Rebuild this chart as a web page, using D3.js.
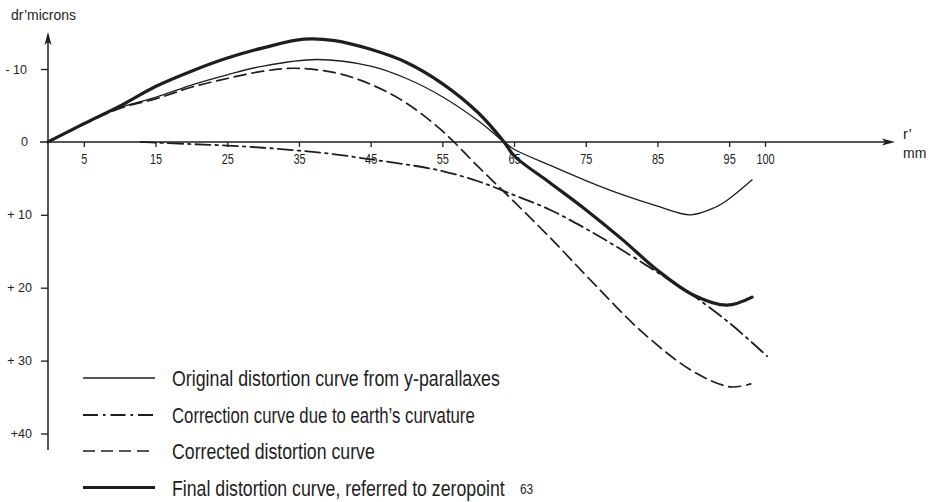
<!DOCTYPE html>
<html>
<head>
<meta charset="utf-8">
<script src="https://cdn.jsdelivr.net/npm/d3@7"></script>
<style>
  html, body { margin: 0; padding: 0; background: #ffffff; }
  svg { display: block; }
  text { font-family: "Liberation Sans", Arial, "DejaVu Sans", sans-serif; fill: #1e1e1e; }
</style>
</head>
<body>
<svg id="chart" width="934" height="502"></svg>
<script>
// ---- data (r' in mm, dr' in microns; negative = upward, labelled "- 10") ----
const rOriginal = [0, 5, 10, 15, 20, 25, 30, 37.5, 45, 50, 55, 60, 63.6, 65, 70, 75, 80, 85, 89.6, 93, 95, 98.2];
const dOriginal = [0, -2.4, -4.7, -6.1, -7.8, -9.2, -10.4, -11.3, -10.4, -8.7, -6.2, -2.9, 0, 1.0, 3.2, 5.3, 7.2, 8.8, 10.0, 9.0, 7.8, 5.2];

const rCorrection = [12.9, 15, 20, 25, 30, 35, 40, 45, 50, 55, 60, 65, 70, 75, 80, 85, 90, 95, 100.3];
const dCorrection = [0, 0.1, 0.3, 0.5, 0.8, 1.2, 1.7, 2.4, 3.1, 4.0, 5.4, 7.3, 9.3, 11.9, 14.8, 17.9, 21.1, 24.8, 29.4];

const rCorrected = [0, 5, 10, 15, 20, 25, 30, 34.3, 40, 45, 50, 55, 60, 65, 70, 76, 83, 90, 95.2, 98];
const dCorrected = [0, -2.4, -4.6, -5.9, -7.5, -8.7, -9.7, -10.1, -9.5, -7.9, -5.3, -1.5, 3.4, 8.2, 13.1, 19.3, 26.2, 31.5, 33.6, 33.2];

const rFinal = [0, 5, 10, 15, 20, 25, 30, 35.7, 40, 45, 50, 55, 60, 63.6, 65, 70, 75, 80, 85, 90, 94.7, 98.2];
const dFinal = [0, -2.5, -4.9, -7.6, -9.7, -11.5, -12.9, -14.1, -13.9, -12.7, -10.9, -8.0, -4.0, 0, 1.9, 5.6, 9.3, 13.3, 17.6, 21.0, 22.4, 21.3];

const xTickValues = [5, 15, 25, 35, 45, 55, 65, 75, 85, 95, 100];
const yTickValues = [-10, 0, 10, 20, 30, 40];
const yTickLabels = ["- 10", "0", "+ 10", "+ 20", "+ 30", "+40"];

const legendLabels = [
  "Original distortion curve from y-parallaxes",
  "Correction curve due to earth\u2019s curvature",
  "Corrected distortion curve",
  "Final distortion curve, referred to zeropoint"
];
const zeroPointLabel = "63";
const yTitle = "dr\u2019microns";
const xTitle1 = "r\u2019";
const xTitle2 = "mm";

// ---- layout ----
const svg = d3.select("#chart");
const ink = "#1e1e1e";

const x = d3.scaleLinear().domain([0, 100]).range([48, 765]);
const y = d3.scaleLinear().domain([-10, 40]).range([69, 433.5]);

const xAxisEnd = 895;
const yAxisTop = 32;
const yAxisBottom = 450;

// axes lines
svg.append("line")
  .attr("x1", 40).attr("x2", xAxisEnd - 3)
  .attr("y1", y(0)).attr("y2", y(0))
  .attr("stroke", ink).attr("stroke-width", 1.5);
svg.append("line")
  .attr("x1", x(0)).attr("x2", x(0))
  .attr("y1", yAxisBottom).attr("y2", yAxisTop + 3)
  .attr("stroke", ink).attr("stroke-width", 1.5);

// arrow heads
svg.append("path")
  .attr("d", `M${xAxisEnd},${y(0)} L${xAxisEnd - 13},${y(0) - 3.5} L${xAxisEnd - 10},${y(0)} L${xAxisEnd - 13},${y(0) + 3.5} Z`)
  .attr("fill", ink);
svg.append("path")
  .attr("d", `M${x(0)},${yAxisTop} L${x(0) - 3.5},${yAxisTop + 13} L${x(0)},${yAxisTop + 10} L${x(0) + 3.5},${yAxisTop + 13} Z`)
  .attr("fill", ink);

// x axis ticks
const xAxis = d3.axisBottom(x).tickValues(xTickValues).tickSize(5).tickPadding(7).tickFormat(d3.format("d"));
const gx = svg.append("g").attr("transform", `translate(0,${y(0)})`).call(xAxis);
gx.select(".domain").remove();
gx.selectAll(".tick line").attr("stroke", ink).attr("stroke-width", 1.3);
gx.selectAll(".tick text")
  .attr("font-size", 14).attr("fill", ink)
  .attr("transform", "scale(0.78,1)")
  .style("font-family", "\"Liberation Sans\", Arial, sans-serif");

// y axis ticks
const yAxis = d3.axisLeft(y).tickValues(yTickValues).tickSize(7).tickPadding(9)
  .tickFormat((d, i) => yTickLabels[i]);
const gy = svg.append("g").attr("transform", `translate(${x(0)},0)`).call(yAxis);
gy.select(".domain").remove();
gy.selectAll(".tick line").attr("stroke", ink).attr("stroke-width", 1.3)
  .filter(d => d === 0).remove();
gy.selectAll(".tick text").attr("font-size", 12.5).attr("fill", ink)
  .attr("dx", d => d === -10 ? -5 : (d === 0 ? -4 : 0))
  .style("font-family", "\"Liberation Sans\", Arial, sans-serif");

// axis titles
svg.append("text").attr("x", 11).attr("y", 20).attr("font-size", 14).text(yTitle);
svg.append("text").attr("x", 903).attr("y", 139).attr("font-size", 15).text(xTitle1);
svg.append("text").attr("x", 903).attr("y", 158).attr("font-size", 14).text(xTitle2);

// ---- curves ----
const series = [
  { r: rOriginal, d: dOriginal, width: 1.3, dash: null },
  { r: rCorrection, d: dCorrection, width: 1.8, dash: "15,5,2.5,5" },
  { r: rCorrected, d: dCorrected, width: 1.7, dash: "12,6" },
  { r: rFinal, d: dFinal, width: 3.2, dash: null }
];

const line = d3.line()
  .x(p => x(p[0]))
  .y(p => y(p[1]))
  .curve(d3.curveCatmullRom.alpha(0.5));

series.forEach(s => {
  const pts = s.r.map((rv, i) => [rv, s.d[i]]);
  svg.append("path")
    .attr("d", line(pts))
    .attr("fill", "none")
    .attr("stroke", ink)
    .attr("stroke-width", s.width)
    .attr("stroke-linecap", "round")
    .attr("stroke-linejoin", "round")
    .attr("stroke-dasharray", s.dash);
});

// ---- legend ----
const legendRowY = [378, 415, 451, 487.5];
const legendTextWidth = [328, 303, 203, 333];
const lg = svg.append("g");
series.forEach((s, i) => {
  lg.append("line")
    .attr("x1", 83).attr("x2", 155)
    .attr("y1", legendRowY[i]).attr("y2", legendRowY[i])
    .attr("stroke", ink)
    .attr("stroke-width", s.width)
    .attr("stroke-dasharray", s.dash);
  const t = lg.append("text")
    .attr("x", 0).attr("y", 0)
    .attr("font-size", 21.5)
    .text(legendLabels[i]);
  const natural = t.node().getComputedTextLength();
  const sx = legendTextWidth[i] / natural;
  t.attr("transform", `translate(172,${legendRowY[i] + 8}) scale(${sx},1)`);
});
lg.append("text")
  .attr("x", 0).attr("y", 0)
  .attr("font-size", 14)
  .attr("transform", `translate(520,${legendRowY[3] + 6}) scale(0.85,1)`)
  .text(zeroPointLabel);
</script>
</body>
</html>
